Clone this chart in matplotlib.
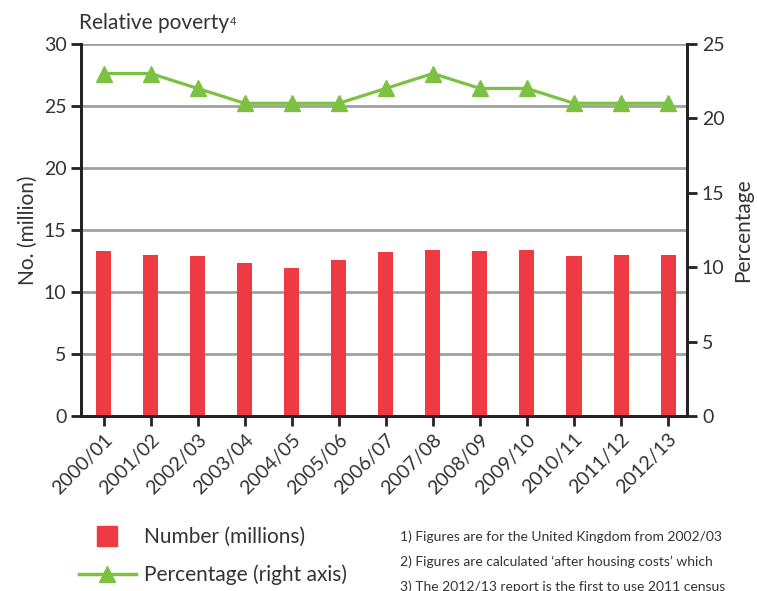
import matplotlib.pyplot as plt
from matplotlib.lines import Line2D

plt.rcParams['font.family'] = ['Lato', 'DejaVu Sans']

anos = ["2000/01", "2001/02", "2002/03", "2003/04", "2004/05", "2005/06", "2006/07",
        "2007/08", "2008/09", "2009/10", "2010/11", "2011/12", "2012/13"]
numero_milhoes = [13.3, 13.0, 12.9, 12.3, 11.9, 12.6, 13.2, 13.4, 13.3, 13.4, 12.9, 13.0, 13.0]
percentual = [23, 23, 22, 21, 21, 21, 22, 23, 22, 22, 21, 21, 21]
notas = [
    "1) Figures are for the United Kingdom from 2002/03",
    "2) Figures are calculated \u2018after housing costs\u2019 which",
    "3) The 2012/13 report is the first to use 2011 census",
]

vermelho = "#ee3a43"
verde = "#7dc142"
texto = "#333333"

fig = plt.figure(figsize=(7.57, 5.91), dpi=100)
ax = fig.add_axes([0.107, 0.296, 0.801, 0.63])
ax2 = ax.twinx()

x = range(len(anos))
ax.bar(x, numero_milhoes, width=0.32, color=vermelho, zorder=3)
ax2.plot(x, percentual, color=verde, lw=2.3, marker='^', markersize=12, zorder=4)

ax.set_ylim(0, 30)
ax2.set_ylim(0, 25)
ax.set_xlim(-0.48, 12.41)
ax.set_yticks(range(0, 31, 5))
ax2.set_yticks(range(0, 26, 5))
ax.yaxis.grid(True, color="#a0a0a0", lw=2, zorder=0)
ax.set_axisbelow(True)

ax.set_xticks(list(x))
ax.set_xticklabels(anos, rotation=45, ha='right', rotation_mode='anchor', fontsize=13.5, color=texto)

for a in (ax, ax2):
    a.spines['top'].set_visible(False)
    for s in ('left', 'right', 'bottom'):
        a.spines[s].set_linewidth(2)
        a.spines[s].set_color("#222222")
    a.tick_params(width=2, length=7, labelsize=14, labelcolor=texto, color="#222222")

ax.set_ylabel("No. (million)", fontsize=15, color=texto, labelpad=4)
ax2.set_ylabel("Percentage", fontsize=15, color=texto, rotation=90, labelpad=6)

# titulo com o numero da nota em sobrescrito
titulo = fig.text(0.105, 0.945, "Relative poverty", fontsize=15, color=texto, va='bottom')
ax.annotate("4", xy=(1, 0.3), xycoords=titulo, fontsize=8, color=texto, va='bottom')

handles = [
    Line2D([], [], ls='none', marker='s', markersize=14, color=vermelho),
    Line2D([], [], color=verde, lw=2.5, marker='^', markersize=12),
]
fig.legend(handles, ["Number (millions)", "Percentage (right axis)"], loc='upper left',
           bbox_to_anchor=(0.08, 0.14), frameon=False, fontsize=15, handlelength=2.7,
           labelspacing=0.85, handletextpad=0.4, labelcolor=texto)

for i, nota in enumerate(notas):
    fig.text(0.528, 0.092 - i * 0.042, nota, fontsize=10, color=texto, va='center')

fig.savefig("out.png", dpi=100)
